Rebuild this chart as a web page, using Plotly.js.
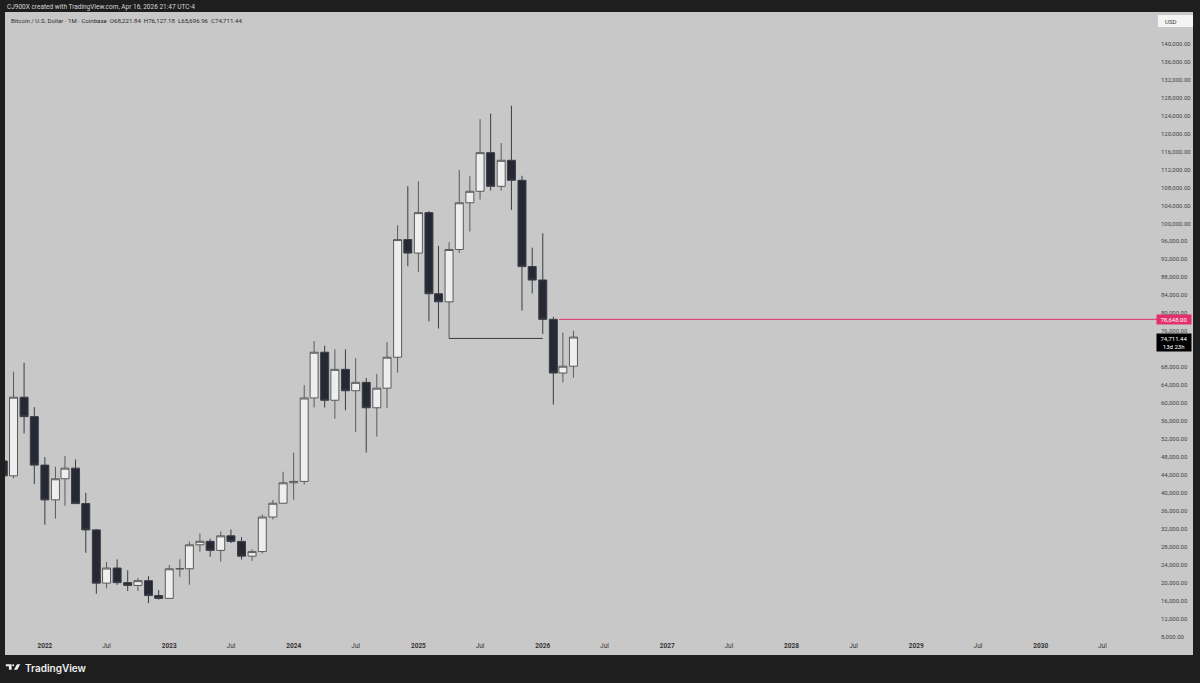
<!DOCTYPE html>
<html>
<head>
<meta charset="utf-8">
<script src="https://cdn.plot.ly/plotly-3.0.1.min.js"></script>
<style>
  html, body { margin: 0; padding: 0; background: #1e1e1e; }
  #chart { width: 1200px; height: 683px; }
</style>
</head>
<body>
<div id="chart"></div>
<script>
// ---- Data: BTC/USD monthly candles (Coinbase) ----
const months = [
  '2021-09-01','2021-10-01','2021-11-01','2021-12-01',
  '2022-01-01','2022-02-01','2022-03-01','2022-04-01','2022-05-01','2022-06-01',
  '2022-07-01','2022-08-01','2022-09-01','2022-10-01','2022-11-01','2022-12-01',
  '2023-01-01','2023-02-01','2023-03-01','2023-04-01','2023-05-01','2023-06-01',
  '2023-07-01','2023-08-01','2023-09-01','2023-10-01','2023-11-01','2023-12-01',
  '2024-01-01','2024-02-01','2024-03-01','2024-04-01','2024-05-01','2024-06-01',
  '2024-07-01','2024-08-01','2024-09-01','2024-10-01','2024-11-01','2024-12-01',
  '2025-01-01','2025-02-01','2025-03-01','2025-04-01','2025-05-01','2025-06-01',
  '2025-07-01','2025-08-01','2025-09-01','2025-10-01','2025-11-01','2025-12-01',
  '2026-01-01','2026-02-01','2026-03-01','2026-04-01'
];
const openPrices = [
  47130, 43820, 61320, 57000,
  46210, 38470, 43170, 45530, 37640, 31790,
  19940, 23300, 20050, 19430, 20490, 17170,
  16540, 23130, 23140, 28470, 29250, 27220,
  30470, 29230, 25940, 26960, 34650, 37720,
  42270, 42580, 61150, 71330, 60640, 67520,
  62760, 64630, 58970, 63330, 70220, 96400,
  93400, 102400, 84350, 82550, 94200, 104600,
  107150, 115750, 108250, 114050, 109600, 90400,
  87400, 78648, 66700, 68221.84
];
const highPrices = [
  52920, 66999, 69000, 59100,
  47990, 45850, 48240, 47450, 40050, 31990,
  24670, 25210, 22800, 21090, 21480, 18390,
  23960, 25250, 29190, 31000, 29830, 31440,
  31860, 30200, 27490, 35200, 38430, 44730,
  48970, 64000, 73830, 72800, 71980, 71970,
  70000, 65600, 66500, 73600, 99600, 108300,
  109360, 102760, 95000, 95800, 111900, 110500,
  123200, 124450, 117900, 126200, 110600, 94600,
  97800, 79200, 75700, 76127.18
];
const lowPrices = [
  39600, 43290, 53260, 41970,
  32930, 34320, 37150, 37700, 26700, 17590,
  18780, 19540, 18150, 18190, 15480, 16260,
  16500, 21350, 19570, 26940, 25810, 24750,
  28860, 25170, 24900, 26560, 34100, 37620,
  38500, 41880, 59050, 59000, 56550, 58400,
  53550, 49000, 52550, 58900, 66800, 90500,
  89200, 78200, 76600, 74400, 93400, 98200,
  105300, 107300, 107300, 103000, 80600, 84400,
  75400, 59700, 64600, 65696.96
];
const closePrices = [
  43820, 61320, 57000, 46210,
  38470, 43170, 45530, 37640, 31790, 19940,
  23300, 20050, 19430, 20490, 17170, 16540,
  23130, 23140, 28470, 29250, 27220, 30470,
  29230, 25940, 26960, 34650, 37720, 42270,
  42580, 61150, 71330, 60640, 67520, 62760,
  64630, 58970, 63330, 70220, 96400, 93400,
  102400, 84350, 82550, 94200, 104600, 107150,
  115750, 108250, 114050, 109600, 90400, 87400,
  78648, 66700, 68221.84, 74711.44
];

// price-axis ticks
const priceTickVals = [
  8000, 12000, 16000, 20000, 24000, 28000, 32000, 36000, 40000, 44000,
  48000, 52000, 56000, 60000, 64000, 68000, 72000, 76000, 80000, 84000,
  88000, 92000, 96000, 100000, 104000, 108000, 112000, 116000, 120000, 124000,
  128000, 132000, 136000, 140000
];

// time-axis ticks
const timeTickVals = [
  '2022-01-01','2022-07-01','2023-01-01','2023-07-01','2024-01-01','2024-07-01',
  '2025-01-01','2025-07-01','2026-01-01','2026-07-01','2027-01-01','2027-07-01',
  '2028-01-01','2028-07-01','2029-01-01','2029-07-01','2030-01-01','2030-07-01'
];
const timeTickText = [
  '<b>2022</b>','Jul','<b>2023</b>','Jul','<b>2024</b>','Jul',
  '<b>2025</b>','Jul','<b>2026</b>','Jul','<b>2027</b>','Jul',
  '<b>2028</b>','Jul','<b>2029</b>','Jul','<b>2030</b>','Jul'
];

// drawn levels
const redLevelPrice = 78648;
const redLevelStart = '2026-02-18';
const supportFrom = '2025-04-01';   // candle whose low defines the drawn line
const supportTo = '2026-01-01';
const lastClose = closePrices[closePrices.length - 1];
const countdown = '13d 23h';

const headerText = 'CJ900X created with TradingView.com, Apr 16, 2026 21:47 UTC-4';
const legendText = 'Bitcoin / U.S. Dollar · 1M · Coinbase  O68,221.84  H76,127.18  L65,696.96  C74,711.44';

// ---- layout geometry ----
const W = 1200, H = 683;
const M = { l: 5, r: 53, t: 12, b: 43 };
const PW = W - M.l - M.r, PH = H - M.t - M.b;
const px = x => (x - M.l) / PW;
const py = y => (H - M.b - y) / PH;
const xRange = ['2021-09-06', '2030-11-09'];
const yRange = [7282, 147055];
const dateToPaper = d => (new Date(d) - new Date(xRange[0])) / (new Date(xRange[1]) - new Date(xRange[0]));

const font = 'Roboto, "Liberation Sans", sans-serif';

const supIdx = months.indexOf(supportFrom);

const trace = {
  type: 'candlestick',
  x: months, open: openPrices, high: highPrices, low: lowPrices, close: closePrices,
  increasing: { line: { color: '#5a5a5a', width: 1 }, fillcolor: '#eeeeee' },
  decreasing: { line: { color: '#3a3d46', width: 1 }, fillcolor: '#262933' },
  whiskerwidth: 0,
  hoverinfo: 'skip',
  showlegend: false
};

function P(pts) { // polygon path in paper coordinates from pixel points
  return 'M' + pts.map(p => px(p[0]) + ',' + py(p[1])).join(' L') + ' Z';
}

const shapes = [
  // gray chart panel
  { type: 'rect', xref: 'paper', yref: 'paper', x0: px(5), x1: px(1193), y0: py(655), y1: py(12),
    fillcolor: '#c8c8c8', line: { width: 0 }, layer: 'below' },
  // USD box
  { type: 'rect', xref: 'paper', yref: 'paper', x0: px(1158), x1: px(1193), y0: py(27), y1: py(15),
    fillcolor: '#f4f4f4', line: { width: 0 } },
  // red horizontal level
  { type: 'line', xref: 'paper', yref: 'y', x0: dateToPaper(redLevelStart), x1: px(1157),
    y0: redLevelPrice, y1: redLevelPrice, line: { color: '#e3306a', width: 1 } },
  // black horizontal line from Apr 2025 low
  { type: 'line', xref: 'x', yref: 'y', x0: supportFrom, x1: supportTo,
    y0: lowPrices[supIdx], y1: lowPrices[supIdx], line: { color: '#3a3a3a', width: 1 } },
  // TradingView logo
  { type: 'path', xref: 'paper', yref: 'paper', line: { width: 0 }, fillcolor: '#f0f0f0',
    path: P([[5.8,664.3],[11.6,664.3],[11.6,669.8],[8.9,669.8],[8.9,666.3],[5.8,666.3]]) },
  { type: 'circle', xref: 'paper', yref: 'paper', line: { width: 0 }, fillcolor: '#f0f0f0',
    x0: px(12.2), x1: px(14.2), y0: py(666.3), y1: py(664.3) },
  { type: 'path', xref: 'paper', yref: 'paper', line: { width: 0 }, fillcolor: '#f0f0f0',
    path: P([[17.0,664.3],[20.3,664.3],[17.2,669.8],[13.9,669.8]]) }
];

const annotations = [
  { xref: 'paper', yref: 'paper', x: px(5), y: py(6.5), xanchor: 'left', yanchor: 'middle',
    text: headerText, showarrow: false, font: { family: font, size: 6.5, color: '#d6d6d6' } },
  { xref: 'paper', yref: 'paper', x: px(8.5), y: py(20.5), xanchor: 'left', yanchor: 'middle',
    text: legendText, showarrow: false, font: { family: font, size: 6.1, color: '#2b2b2b' } },
  { xref: 'paper', yref: 'paper', x: px(1163), y: py(21), xanchor: 'left', yanchor: 'middle',
    text: 'USD', showarrow: false, font: { family: font, size: 6, color: '#333' } },
  { xref: 'paper', yref: 'y', x: px(1156), y: redLevelPrice, xanchor: 'left', yanchor: 'middle',
    text: redLevelPrice.toLocaleString('en-US', { minimumFractionDigits: 2 }), showarrow: false,
    bgcolor: '#e3306a', borderpad: 1, width: 32,
    font: { family: font, size: 6, color: '#ffffff' } },
  { xref: 'paper', yref: 'y', x: px(1156), y: lastClose, xanchor: 'left', yanchor: 'top', yshift: 4,
    text: lastClose.toLocaleString('en-US', { minimumFractionDigits: 2 }) + '<br>' + countdown,
    showarrow: false, bgcolor: '#000000', borderpad: 1, width: 32, align: 'center',
    font: { family: font, size: 6, color: '#ffffff' } },
  { xref: 'paper', yref: 'paper', x: px(23), y: py(667.5), xanchor: 'left', yanchor: 'middle',
    text: 'TradingView', showarrow: false,
    font: { family: 'Inter, Roboto, sans-serif', size: 10, color: '#f0f0f0', weight: 600 } }
];

const layout = {
  width: W, height: H,
  margin: { l: M.l, r: M.r, t: M.t, b: M.b, pad: 0 },
  paper_bgcolor: '#1e1e1e',
  plot_bgcolor: '#c8c8c8',
  showlegend: false,
  boxgap: 0.1, boxgroupgap: 0.07,
  xaxis: {
    type: 'date', range: xRange,
    tickmode: 'array', tickvals: timeTickVals, ticktext: timeTickText,
    showgrid: false, zeroline: false, showline: false, ticks: '',
    tickfont: { family: font, size: 6.5, color: '#333' },
    rangeslider: { visible: false }, fixedrange: true
  },
  yaxis: {
    side: 'right', range: yRange,
    tickmode: 'array', tickvals: priceTickVals, tickformat: ',.2f',
    showgrid: false, zeroline: false, showline: false, ticks: '',
    ticklabelstandoff: 13,
    tickfont: { family: font, size: 6, color: '#444' },
    fixedrange: true
  },
  shapes: shapes,
  annotations: annotations
};

Plotly.newPlot('chart', [trace], layout, { displayModeBar: false, staticPlot: true });
</script>
</body>
</html>
